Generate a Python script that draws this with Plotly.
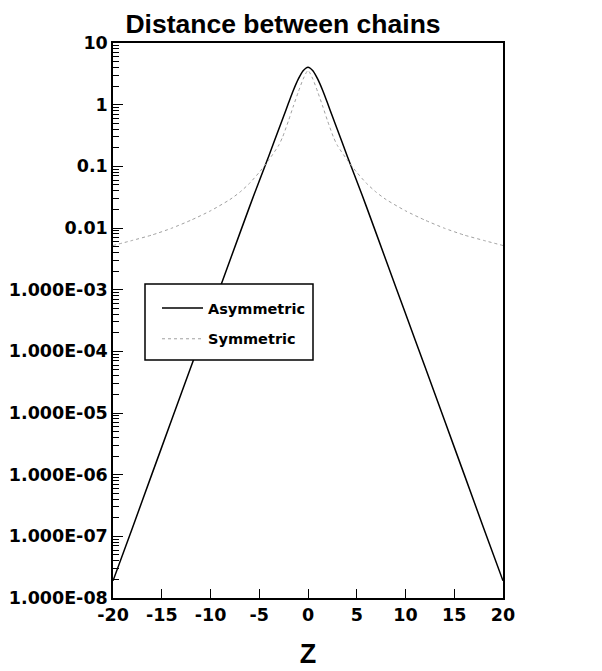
import plotly.graph_objects as go

# ---- data ----
z_asym = [-20, -18, -16, -14, -12, -10, -8, -6, -5, -4, -3, -2.5, -2, -1.5, -1, -0.5, 0,
          0.5, 1, 1.5, 2, 2.5, 3, 4, 5, 6, 8, 10, 12, 14, 16, 18, 20]
v_asym = [1.9e-8, 1.38e-7, 1.03e-6, 7.6e-6, 5.6e-5, 4.1e-4, 3.0e-3, 0.022, 0.058, 0.15, 0.40,
          0.65, 1.06, 1.71, 2.59, 3.55, 4.05,
          3.55, 2.59, 1.71, 1.06, 0.65, 0.40, 0.15, 0.058, 0.022, 3.0e-3, 4.1e-4, 5.6e-5,
          7.6e-6, 1.03e-6, 1.38e-7, 1.9e-8]

z_sym = [-20, -18, -16, -14, -12, -10, -8, -7, -6, -5, -4, -3, -2.6, -2, -1.5, -1, -0.5, 0,
         0.5, 1, 1.5, 2, 2.6, 3, 4, 5, 6, 7, 8, 10, 12, 14, 16, 18, 20]
v_sym = [0.0052, 0.0063, 0.0077, 0.0099, 0.0134, 0.019, 0.029, 0.038, 0.053, 0.080, 0.128,
         0.22, 0.30, 0.55, 0.95, 1.6, 2.6, 3.6,
         2.6, 1.6, 0.95, 0.55, 0.30, 0.22, 0.128, 0.080, 0.053, 0.038, 0.029, 0.019, 0.0134,
         0.0099, 0.0077, 0.0063, 0.0052]

y_tickvals = [10, 1, 0.1, 0.01, 1e-3, 1e-4, 1e-5, 1e-6, 1e-7, 1e-8]
y_ticktext = ["10", "1", "0.1", "0.01", "1.000E-03", "1.000E-04", "1.000E-05",
              "1.000E-06", "1.000E-07", "1.000E-08"]
x_tickvals = [-20, -15, -10, -5, 0, 5, 10, 15, 20]
x_ticktext = ["-20", "-15", "-10", "-5", "0", "5", "10", "15", "20"]

minor_vals = [m * 10.0 ** e for e in range(-8, 1) for m in range(2, 10)]

W, H = 602, 671
L, R, T, B = 105, 495, 35, 590
PW, PH = R - L, B - T


def px(x):
    return (x - L) / PW


def py(y):
    return (B - y) / PH


fig = go.Figure()
fig.add_trace(go.Scatter(x=z_asym, y=v_asym, mode="lines", name="Asymmetric",
                         line=dict(color="black", width=1.5, shape="spline", smoothing=0.6),
                         legendgroup="a"))
fig.add_trace(go.Scatter(x=z_sym, y=v_sym, mode="lines", name="Symmetric",
                         line=dict(color="#a0a0a0", width=1, dash="dot", shape="spline",
                                   smoothing=0.6),
                         legendgroup="b"))

tick_font = dict(family="DejaVu Sans", size=17.5, color="black", weight="bold")

fig.update_layout(
    width=W, height=H,
    margin=dict(l=L, r=W - R, t=T, b=H - B, pad=0),
    paper_bgcolor="white", plot_bgcolor="white",
    title=dict(text="Distance between chains", x=275 / W, xanchor="center",
               y=1 - 6 / H, yanchor="top", pad=dict(t=0, b=0),
               font=dict(family="Liberation Sans", size=26.5, color="black", weight="bold")),
    xaxis=dict(range=[-20, 20], tickvals=x_tickvals, ticktext=x_ticktext, ticks="inside",
               ticklen=9, tickwidth=1.2, tickcolor="black", showline=True, linecolor="black",
               linewidth=1.5, mirror=True, showgrid=False, zeroline=False,
               tickfont=tick_font, automargin=False,
               title=dict(text="Z", standoff=20,
                          font=dict(family="Liberation Sans", size=27, color="black",
                                    weight="bold"))),
    yaxis=dict(type="log", range=[-8, 1], tickvals=y_tickvals, ticktext=y_ticktext,
               ticks="inside", ticklen=10, tickwidth=1.2, tickcolor="black",
               showline=True, linecolor="black", linewidth=1.5, mirror=True,
               showgrid=False, zeroline=False, tickfont=tick_font, automargin=False,
               minor=dict(tickvals=minor_vals, ticks="inside", ticklen=6, tickwidth=1,
                          tickcolor="black", showgrid=False)),
    legend=dict(x=px(149), y=py(284), xanchor="left", yanchor="top",
                bgcolor="rgba(255,255,255,0)", borderwidth=0,
                font=dict(family="DejaVu Sans", size=14.5, color="black", weight="bold"),
                tracegroupgap=9, itemwidth=41),
    shapes=[dict(type="rect", xref="paper", yref="paper",
                 x0=px(137), x1=px(305), y0=py(352), y1=py(276),
                 line=dict(color="black", width=1.5), fillcolor="white", layer="above")],
    showlegend=True,
)

fig.write_html("out.html")
